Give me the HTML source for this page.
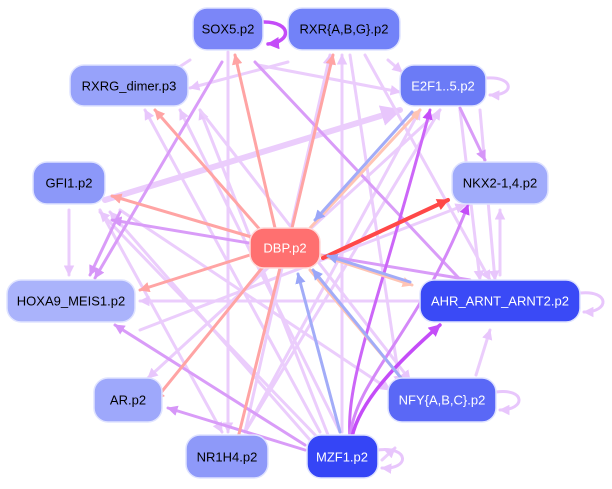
<!DOCTYPE html>
<html><head><meta charset="utf-8"><style>
html,body{margin:0;padding:0;background:#fff;}
svg{display:block;font-family:"Liberation Sans",Arial,sans-serif;}
</style></head><body>
<svg width="612" height="489" viewBox="0 0 612 489" xmlns="http://www.w3.org/2000/svg">
<defs>
<marker id="ml" viewBox="0 0 10 10" refX="9" refY="5" markerWidth="3.5" markerHeight="3.5" orient="auto"><path d="M0,0L10,5L0,10z" fill="#e8c6fc"/></marker>
<marker id="mm" viewBox="0 0 10 10" refX="9" refY="5" markerWidth="3.5" markerHeight="3.5" orient="auto"><path d="M0,0L10,5L0,10z" fill="#d696f8"/></marker>
<marker id="md" viewBox="0 0 10 10" refX="9" refY="5" markerWidth="3.5" markerHeight="3.5" orient="auto"><path d="M0,0L10,5L0,10z" fill="#c44cf8"/></marker>
<marker id="mp" viewBox="0 0 10 10" refX="9" refY="5" markerWidth="3.5" markerHeight="3.5" orient="auto"><path d="M0,0L10,5L0,10z" fill="#ffa4a4"/></marker>
<marker id="mpe" viewBox="0 0 10 10" refX="9" refY="5" markerWidth="3.5" markerHeight="3.5" orient="auto"><path d="M0,0L10,5L0,10z" fill="#ffc4b4"/></marker>
<marker id="mr" viewBox="0 0 10 10" refX="9" refY="5" markerWidth="3" markerHeight="3" orient="auto"><path d="M0,0L10,5L0,10z" fill="#ff4848"/></marker>
<marker id="mb" viewBox="0 0 10 10" refX="9" refY="5" markerWidth="3.5" markerHeight="3.5" orient="auto"><path d="M0,0L10,5L0,10z" fill="#9aa6f8"/></marker>
</defs>
<g fill="none" stroke-linecap="round">
<g stroke="#ebcdfc" stroke-width="3" marker-end="url(#ml)">
<line x1="190" y1="60" x2="170" y2="73"/>
<line x1="288" y1="62" x2="190" y2="88"/>
<line x1="258" y1="65" x2="400" y2="92"/>
<line x1="388" y1="60" x2="402" y2="72"/>
<line x1="105" y1="200" x2="400" y2="110" stroke-width="6"/>
<line x1="69" y1="210" x2="69" y2="275"/>
<line x1="100" y1="210" x2="222" y2="432"/>
<line x1="120" y1="210" x2="390" y2="390"/>
<line x1="420" y1="301" x2="140" y2="301"/>
<line x1="500" y1="275" x2="500" y2="210"/>
<line x1="476" y1="375" x2="490" y2="330"/>
<line x1="382" y1="460" x2="395" y2="448"/>
<line x1="342" y1="432" x2="342" y2="55"/>
<line x1="228" y1="52" x2="228" y2="432"/>
<line x1="350" y1="55" x2="400" y2="385"/>
<line x1="365" y1="55" x2="490" y2="280"/>
<line x1="340" y1="432" x2="180" y2="110"/>
<line x1="320" y1="432" x2="145" y2="110"/>
<line x1="245" y1="432" x2="420" y2="110"/>
<line x1="245" y1="432" x2="330" y2="55"/>
<line x1="440" y1="110" x2="148" y2="378"/>
<line x1="460" y1="110" x2="480" y2="280"/>
<line x1="480" y1="110" x2="495" y2="280"/>
<line x1="320" y1="440" x2="100" y2="212"/>
<line x1="330" y1="440" x2="200" y2="110"/>
<line x1="200" y1="110" x2="410" y2="380"/>
<line x1="140" y1="330" x2="465" y2="205"/>
<line x1="245" y1="432" x2="440" y2="110"/>
<line x1="310" y1="440" x2="110" y2="212"/>
</g>
<g stroke="#d99cf8" stroke-width="3" marker-end="url(#mm)">
<line x1="255" y1="62" x2="470" y2="290"/>
<line x1="222" y1="62" x2="95" y2="278"/>
<line x1="120" y1="212" x2="90" y2="275"/>
<line x1="460" y1="108" x2="485" y2="160"/>
<line x1="470" y1="280" x2="112" y2="220"/>
<line x1="305" y1="450" x2="168" y2="408"/>
<line x1="305" y1="445" x2="115" y2="325"/>
</g>
<path d="M350,437 C345,380 380,300 430,110" stroke="#cc66f8" stroke-width="3" marker-end="url(#md)"/>
<path d="M350,437 C355,380 420,330 468,205" stroke="#d488f8" stroke-width="3" marker-end="url(#md)"/>
<path d="M352,437 C360,400 400,360 440,325" stroke="#c44cf8" stroke-width="3.5" marker-end="url(#md)"/>
<path d="M264,22 C292,22 292,42 268,44" stroke="#c44cf8" stroke-width="3.5" marker-end="url(#md)"/>
<path d="M486,78 C515,76 515,96 490,95" stroke="#e8c6fc" stroke-width="3" marker-end="url(#ml)"/>
<path d="M580,293 C610,290 610,312 584,312" stroke="#e8c6fc" stroke-width="3" marker-end="url(#ml)"/>
<path d="M496,392 C526,388 526,410 500,410" stroke="#e8c6fc" stroke-width="3" marker-end="url(#ml)"/>
<path d="M378,450 C410,446 410,470 382,468" stroke="#e8c6fc" stroke-width="3" marker-end="url(#ml)"/>
<g stroke="#ffa4a4" stroke-width="3" marker-end="url(#mp)">
<line x1="275" y1="228" x2="235" y2="55"/>
<line x1="292" y1="228" x2="333" y2="55"/>
<line x1="262" y1="232" x2="155" y2="110"/>
<line x1="255" y1="238" x2="112" y2="196"/>
<line x1="250" y1="255" x2="140" y2="290"/>
<line x1="262" y1="268" x2="155" y2="400"/>
<line x1="280" y1="268" x2="235" y2="450"/>
</g>
<g stroke="#ffc4b4" stroke-width="3" marker-end="url(#mpe)">
<line x1="320" y1="255" x2="412" y2="285"/>
<line x1="310" y1="270" x2="420" y2="400"/>
<line x1="310" y1="228" x2="420" y2="110"/>
</g>
<line x1="323" y1="258" x2="448" y2="200" stroke="#ff4848" stroke-width="4" marker-end="url(#mr)"/>
<g stroke="#a2acf8" stroke-width="3" marker-end="url(#mb)">
<line x1="412" y1="112" x2="315" y2="220"/>
<line x1="410" y1="282" x2="328" y2="256"/>
<line x1="415" y1="395" x2="313" y2="270"/>
<line x1="340" y1="432" x2="298" y2="274"/>
</g>
</g>
<g stroke="#dfe3ff" stroke-width="1.5">
<rect x="193" y="8" width="70" height="42" rx="14" fill="#7b86f8"/>
<rect x="288" y="8" width="112" height="42" rx="14" fill="#7282f8"/>
<rect x="70" y="65" width="118" height="41" rx="14" fill="#97a2fa"/>
<rect x="400" y="65" width="86" height="41" rx="14" fill="#6b7bf6"/>
<rect x="33" y="162" width="72" height="42" rx="14" fill="#8c98f9"/>
<rect x="452" y="162" width="96" height="42" rx="14" fill="#a0abfb"/>
<rect x="250" y="228" width="70" height="40" rx="14" fill="#ff7070" stroke="#ffdada"/>
<rect x="7" y="280" width="128" height="42" rx="14" fill="#aab3fb"/>
<rect x="420" y="280" width="160" height="42" rx="14" fill="#3a4af6"/>
<rect x="94" y="378" width="68" height="44" rx="14" fill="#9ea8fb"/>
<rect x="388" y="378" width="108" height="44" rx="14" fill="#5a68f6"/>
<rect x="186" y="435" width="82" height="43" rx="14" fill="#8e99f9"/>
<rect x="307" y="435" width="71" height="43" rx="14" fill="#3545f6"/>
</g>
<g font-size="13" text-anchor="middle" dominant-baseline="central">
<text x="228" y="29" fill="#000">SOX5.p2</text>
<text x="344" y="29" fill="#000">RXR{A,B,G}.p2</text>
<text x="129" y="86" fill="#000">RXRG_dimer.p3</text>
<text x="443" y="86" fill="#fff">E2F1..5.p2</text>
<text x="69" y="183" fill="#000">GFI1.p2</text>
<text x="500" y="183" fill="#000">NKX2-1,4.p2</text>
<text x="285" y="248" fill="#fff">DBP.p2</text>
<text x="71" y="301" fill="#000">HOXA9_MEIS1.p2</text>
<text x="500" y="301" fill="#fff">AHR_ARNT_ARNT2.p2</text>
<text x="128" y="400" fill="#000">AR.p2</text>
<text x="442" y="400" fill="#fff">NFY{A,B,C}.p2</text>
<text x="227" y="457" fill="#000">NR1H4.p2</text>
<text x="342" y="457" fill="#fff">MZF1.p2</text>
</g>
</svg>
</body></html>
